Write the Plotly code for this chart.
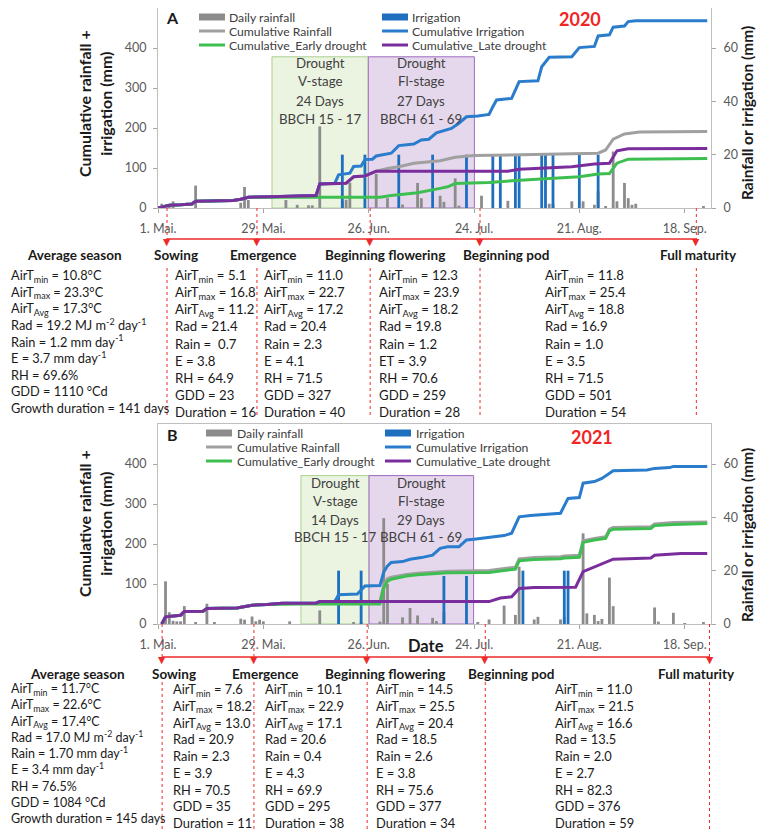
import pandas as pd
import plotly.graph_objects as go

# the page puts the figure 8 px in from the window's top-left corner; the figure is
# sized so the page does not overflow, and positions below are given in window pixels
W, H = 751, 824
OFF = 8
FONT = "Lato"
RED = "#ee2a2a"
TICK_GREY = "#595959"

C_RAIN_BAR = "#8c8c8c"
C_IRR_BAR = "#1f6fbf"
C_RAIN = "#a0a0a0"
C_IRR = "#2a7ccc"
C_EARLY = "#3cbf50"
C_LATE = "#7a2e9e"

# x axis: days after 1 May
tick_days = [0, 28, 56, 84, 112, 140]
tick_text = ["1. Mai.", "29. Mai.", "26. Jun.", "24. Jul.", "21. Aug.", "18. Sep."]

stage_names = ["Average season", "Sowing", "Emergence", "Beginning flowering", "Beginning pod", "Full maturity"]

# ---------------- 2020 (panel A) ----------------
rain_day_2020 = [1, 3, 4, 10, 22, 23, 24, 34, 37, 40, 41, 43, 49, 50, 51, 58, 61, 65, 69, 70,
                 75, 76, 79, 80, 86, 93, 104, 105, 110, 113, 116, 117, 119, 121, 122, 124, 125, 126, 127, 145]
rain_mm_2020 = [1.6, 1.2, 2.5, 8.4, 2.0, 7.9, 3.0, 3.0, 1.2, 1.0, 1.0, 30.6, 2.7, 3.1, 9.5, 12.8, 3.7, 1.3, 9.4, 3.7,
                4.6, 2.3, 11.1, 0.9, 4.6, 2.7, 1.6, 1.5, 2.5, 2.5, 1.2, 6.2, 0.6, 21.2, 2.5, 9.4, 3.7, 1.2, 1.6, 0.6]
irr_day_2020 = [49, 55, 64, 73, 82, 89, 91, 95, 96, 102, 103, 105, 112, 117]
irr_mm_2020 = [20, 20, 20, 20, 20, 20, 20, 20, 20, 20, 20, 20, 20, 20]

cum_rain_day_2020 = [0, 3, 6, 9, 10, 20, 22, 24, 30, 42, 43, 50, 52, 55, 58, 61, 64, 68, 75, 79, 84, 95,
                     117, 119, 121, 124, 128, 146]
cum_rain_2020 = [0, 7, 8, 10, 17, 19, 22, 27, 28, 31, 60, 62, 78, 80, 92, 99, 103, 112, 118, 127, 131, 133,
                 137, 145, 172, 185, 190, 191]
cum_irr_day_2020 = [0, 3, 6, 9, 10, 20, 22, 24, 30, 42, 43, 47, 48, 51, 52, 54, 55, 57, 58, 62,
                    64, 68, 70, 72, 74, 78, 80, 82, 85, 88, 89, 90, 94, 96, 101, 102, 104, 110, 112, 116,
                    117, 120, 121, 124, 125, 127, 146]
cum_irr_2020 = [0, 7, 8, 10, 17, 19, 22, 27, 28, 31, 60, 62, 83, 87, 104, 105, 121, 122, 130, 137,
                156, 160, 170, 172, 188, 199, 212, 228, 230, 234, 253, 270, 274, 316, 318, 353, 377, 378, 401, 404,
                430, 433, 452, 455, 466, 468, 468]
cum_early_day_2020 = [0, 3, 6, 9, 10, 20, 22, 24, 30, 59, 62, 69, 75, 77, 79, 88, 94, 103, 112, 117,
                      120, 122, 125, 146]
cum_early_2020 = [0, 7, 8, 10, 17, 19, 22, 27, 27, 27, 31, 38, 49, 53, 61, 64, 68, 73, 78, 85,
                  86, 112, 122, 124]
cum_late_day_2020 = [0, 3, 6, 9, 10, 20, 22, 24, 30, 42, 43, 50, 52, 55, 58, 93, 96, 105, 110, 116,
                     120, 122, 125, 146]
cum_late_2020 = [0, 7, 8, 10, 17, 19, 22, 27, 28, 31, 60, 62, 78, 80, 92, 92, 97, 100, 103, 110,
                 112, 143, 148, 149]

stage_day_2020 = [2.4, 26.3, 56.4, 85.6, 143.1]
drought_v_2020 = [30.3, 55.9]
drought_fl_2020 = [55.9, 84.1]
drought_v_text_2020 = ["Drought", "V-stage", "24 Days", "BBCH 15 - 17"]
drought_fl_text_2020 = ["Drought", "Fl-stage", "27 Days", "BBCH 61 - 69"]

tmin_2020 = ["10.8", "5.1", "11.0", "12.3", "11.8"]
tmax_2020 = ["23.3", "16.8", "22.7", "23.9", "25.4"]
tavg_2020 = ["17.3", "11.2", "17.2", "18.2", "18.8"]
rad_2020 = ["19.2", "21.4", "20.4", "19.8", "16.9"]
rain_2020 = ["1.2", " 0.7", "2.3", "1.2", "1.0"]
evap_2020 = ["3.7", "3.8", "4.1", "3.9", "3.5"]
evap_label_2020 = ["E", "E", "E", "ET", "E"]
rh_2020 = ["69.6", "64.9", "71.5", "70.6", "71.5"]
gdd_2020 = ["1110", "23", "327", "259", "501"]
duration_2020 = ["141", "16", "40", "28", "54"]

# ---------------- 2021 (panel B) ----------------
rain_day_2021 = [2, 3, 4, 5, 6, 7, 10, 13, 15, 22, 23, 25, 26, 27, 28, 35, 43, 52, 54, 59,
                 60, 61, 65, 67, 69, 73, 74, 76, 85, 88, 92, 95, 96, 100, 101, 107, 108, 113, 114, 116,
                 117, 118, 120, 121, 132, 133, 137, 140, 145]
rain_mm_2021 = [16.0, 4.4, 1.2, 1.0, 1.0, 6.7, 0.5, 7.6, 0.5, 2.0, 1.6, 2.8, 1.0, 1.6, 1.0, 1.0, 5.1, 0.4, 0.5, 0.9,
                39.7, 15.0, 2.5, 6.0, 3.2, 2.3, 1.1, 4.4, 0.5, 1.7, 6.9, 3.4, 21.5, 1.7, 2.7, 1.7, 2.5, 34.0, 4.0, 3.4,
                1.1, 1.9, 17.4, 6.7, 6.2, 0.9, 4.2, 0.3, 0.6]
irr_day_2021 = [48, 54, 76, 82, 97, 108, 109]
irr_mm_2021 = [20, 20, 18, 18, 20, 20, 20]

cum_rain_day_2021 = [1, 2, 6, 7, 12, 13, 21, 25, 29, 33, 42, 43, 59, 60, 61, 62, 66, 69, 74, 77,
                     88, 92, 95, 96, 100, 107, 108, 112, 113, 116, 119, 120, 121, 131, 132, 137, 146]
cum_rain_2021 = [0, 18, 22, 31, 32, 39, 40, 47, 49, 52, 52, 56, 57, 96, 113, 117, 124, 127, 130, 132,
                 134, 139, 142, 163, 166, 168, 170, 172, 208, 214, 218, 237, 241, 243, 250, 254, 255]
cum_irr_day_2021 = [1, 2, 6, 7, 12, 13, 21, 25, 29, 33, 42, 43, 47, 48, 53, 55, 59, 60, 61, 62,
                    65, 67, 70, 73, 75, 77, 80, 82, 84, 92, 94, 96, 99, 107, 109, 112, 113, 116, 118, 121,
                    130, 132, 136, 137, 146]
cum_irr_2021 = [0, 18, 22, 31, 32, 39, 40, 47, 49, 52, 52, 56, 56, 73, 75, 95, 96, 130, 145, 154,
                156, 162, 166, 172, 189, 193, 193, 210, 212, 221, 227, 268, 271, 277, 314, 316, 352, 356, 364, 383,
                385, 389, 391, 394, 394]
cum_early_day_2021 = [1, 2, 6, 7, 12, 13, 21, 25, 29, 38, 59, 60, 61, 62, 66, 69, 74, 77, 88, 92,
                      95, 96, 100, 107, 108, 112, 113, 116, 119, 120, 121, 131, 132, 137, 146]
cum_early_2021 = [0, 18, 22, 31, 32, 39, 40, 47, 49, 50, 50, 90, 107, 112, 120, 123, 126, 128, 129, 134,
                  137, 158, 161, 163, 165, 167, 204, 210, 214, 233, 237, 239, 246, 249, 251]
cum_late_day_2021 = [1, 2, 6, 7, 12, 13, 21, 25, 29, 33, 42, 43, 88, 91, 94, 96, 100, 111, 113, 116,
                     120, 121, 131, 132, 139, 146]
cum_late_2021 = [0, 18, 22, 31, 32, 39, 40, 47, 49, 52, 52, 56, 56, 65, 68, 89, 91, 92, 131, 143,
                 158, 162, 165, 172, 176, 176]

stage_day_2021 = [1.1, 25.5, 55.6, 87.0, 146.6]
drought_v_2021 = [38.0, 56.1]
drought_fl_2021 = [56.1, 83.9]
drought_v_text_2021 = ["Drought", "V-stage", "14 Days", "BBCH 15 - 17"]
drought_fl_text_2021 = ["Drought", "Fl-stage", "29 Days", "BBCH 61 - 69"]

tmin_2021 = ["11.7", "7.6", "10.1", "14.5", "11.0"]
tmax_2021 = ["22.6", "18.2", "22.9", "25.5", "21.5"]
tavg_2021 = ["17.4", "13.0", "17.1", "20.4", "16.6"]
rad_2021 = ["17.0", "20.9", "20.6", "18.5", "13.5"]
rain_2021 = ["1.70", "2.3", "0.4", "2.6", "2.0"]
evap_2021 = ["3.4", "3.9", "4.3", "3.8", "2.7"]
evap_label_2021 = ["E", "E", "E", "E", "E"]
rh_2021 = ["76.5", "70.5", "69.9", "75.6", "82.3"]
gdd_2021 = ["1084", "35", "295", "377", "376"]
duration_2021 = ["145", "11", "38", "34", "59"]

row_labels = ["AirT<sub>min</sub>", "AirT<sub>max</sub>", "AirT<sub>Avg</sub>", "Rad", "Rain", "E",
              "RH", "GDD", "Duration"]
season_units = ["°C", "°C", "°C", " MJ m<sup>-2</sup> day<sup>-1</sup>", " mm day<sup>-1</sup>",
                " mm day<sup>-1</sup>", "%", " °Cd", " days"]


def px(x):
    return (x - OFF) / W


def py(y):
    return 1 - (y - OFF) / H


def dates(start, days):
    return list(pd.Timestamp(start) + pd.to_timedelta(days, unit="D"))


def day_str(start, day):
    return (pd.Timestamp(start) + pd.to_timedelta(day, unit="D")).strftime("%Y-%m-%d %H:%M")


def table_column(rows, col, evap_labels):
    lines = []
    for i, vals in enumerate(rows):
        label = row_labels[i]
        if i == 5:
            label = evap_labels[col]
        if i == 8 and col == 0:
            label = "Growth duration"
        unit = season_units[i] if col == 0 else ""
        lines.append(f"{label} = {vals[col]}{unit}")
    return "<br>".join(lines)


fig = go.Figure()
shapes = []
annots = []


def add_panel(start, xa, ybar, ycum, rain_day, rain_mm, irr_day, irr_mm, cums,
              drought_v, drought_fl, v_text, fl_text, box_top, box_text_y):
    bw = 0.75 * 86400000
    fig.add_trace(go.Bar(x=dates(start, rain_day), y=rain_mm, width=bw, name="Daily rainfall",
                         marker=dict(color=C_RAIN_BAR, line_width=0), xaxis=xa, yaxis=ybar, showlegend=False))
    fig.add_trace(go.Bar(x=dates(start, irr_day), y=irr_mm, width=bw, name="Irrigation",
                         marker=dict(color=C_IRR_BAR, line_width=0), xaxis=xa, yaxis=ybar, showlegend=False))
    for name, days, vals, color in cums:
        fig.add_trace(go.Scatter(x=dates(start, days), y=vals, mode="lines", name=name,
                                 line=dict(color=color, width=3), xaxis=xa, yaxis=ycum, showlegend=False))
    for span, fill, edge, text in [(drought_v, "#ebf4e1", "#a9d18e", v_text),
                                   (drought_fl, "#e6d8ec", "#9f6cc0", fl_text)]:
        shapes.append(dict(type="rect", xref=xa, yref=ycum, x0=day_str(start, span[0]),
                           x1=day_str(start, span[1]), y0=0, y1=box_top, fillcolor=fill,
                           line=dict(color=edge, width=1), layer="below"))
        mid = day_str(start, (span[0] + span[1]) / 2)
        for t, yy in zip(text, box_text_y):
            annots.append(dict(xref=xa, yref="paper", x=mid, y=py(yy), text=t, showarrow=False,
                               xanchor="center", yanchor="middle",
                               font=dict(family=FONT, size=13.3, color="#404040")))


def add_timeline(start, xa, stage_day, axis_y, line_y, label_y, label_x, table_top, table_bot,
                 col_x, rows, evap_labels, table_size):
    for d in stage_day:
        x = day_str(start, d)
        shapes.append(dict(type="line", xref=xa, yref="paper", x0=x, x1=x, y0=py(axis_y), y1=py(line_y),
                           line=dict(color=RED, width=1, dash="dot")))
        shapes.append(dict(type="line", xref=xa, yref="paper", x0=x, x1=x, y0=py(table_top), y1=py(table_bot),
                           line=dict(color=RED, width=1, dash="dot")))
        annots.append(dict(xref=xa, yref="paper", x=x, y=py(line_y + 2.5), text="▼", showarrow=False,
                           xanchor="center", yanchor="middle",
                           font=dict(family="DejaVu Sans", size=9.5, color=RED)))
    shapes.append(dict(type="line", xref=xa, yref="paper", x0=day_str(start, stage_day[0]),
                       x1=day_str(start, stage_day[-1]), y0=py(line_y), y1=py(line_y),
                       line=dict(color=RED, width=1.5)))
    for name, cx in zip(stage_names, label_x):
        annots.append(dict(xref="paper", yref="paper", x=px(cx), y=py(label_y), text=f"<b>{name}</b>",
                           showarrow=False, xanchor="center", yanchor="middle",
                           font=dict(family=FONT, size=13.5, color="#1a1a1a")))
    for c, x0 in enumerate(col_x):
        annots.append(dict(xref="paper", yref="paper", x=px(x0), y=py(table_top - 3),
                           text=table_column(rows, c, evap_labels), showarrow=False, align="left",
                           xanchor="left", yanchor="top",
                           font=dict(family=FONT, size=table_size if c else table_size - 0.4, color="#1a1a1a")))


def add_legend(rows_y, sw_x, text_x):
    entries = [[("Daily rainfall", "bar", C_RAIN_BAR), ("Cumulative Rainfall", "line", C_RAIN),
                ("Cumulative_Early drought", "line", C_EARLY)],
               [("Irrigation", "bar", C_IRR_BAR), ("Cumulative Irrigation", "line", C_IRR),
                ("Cumulative_Late drought", "line", C_LATE)]]
    for col, items in enumerate(entries):
        for (name, kind, color), yy in zip(items, rows_y):
            x0, x1 = sw_x[col], sw_x[col] + 26
            if kind == "bar":
                shapes.append(dict(type="rect", xref="paper", yref="paper", x0=px(x0), x1=px(x1),
                                   y0=py(yy + 3.5), y1=py(yy - 3.5), fillcolor=color, line_width=0))
            else:
                shapes.append(dict(type="line", xref="paper", yref="paper", x0=px(x0), x1=px(x1),
                                   y0=py(yy), y1=py(yy), line=dict(color=color, width=3)))
            annots.append(dict(xref="paper", yref="paper", x=px(text_x[col]), y=py(yy), text=name,
                               showarrow=False, xanchor="left", yanchor="middle",
                               font=dict(family=FONT, size=12.2, color="#404040")))


rows_2020 = [tmin_2020, tmax_2020, tavg_2020, rad_2020, rain_2020, evap_2020, rh_2020, gdd_2020, duration_2020]
rows_2021 = [tmin_2021, tmax_2021, tavg_2021, rad_2021, rain_2021, evap_2021, rh_2021, gdd_2021, duration_2021]

add_panel("2020-05-01", "x", "y", "y2", rain_day_2020, rain_mm_2020, irr_day_2020, irr_mm_2020,
          [("Cumulative Rainfall", cum_rain_day_2020, cum_rain_2020, C_RAIN),
           ("Cumulative Irrigation", cum_irr_day_2020, cum_irr_2020, C_IRR),
           ("Cumulative_Early drought", cum_early_day_2020, cum_early_2020, C_EARLY),
           ("Cumulative_Late drought", cum_late_day_2020, cum_late_2020, C_LATE)],
          drought_v_2020, drought_fl_2020, drought_v_text_2020, drought_fl_text_2020, 378, [63, 81, 101, 119])
add_panel("2021-05-01", "x2", "y3", "y4", rain_day_2021, rain_mm_2021, irr_day_2021, irr_mm_2021,
          [("Cumulative Rainfall", cum_rain_day_2021, cum_rain_2021, C_RAIN),
           ("Cumulative Irrigation", cum_irr_day_2021, cum_irr_2021, C_IRR),
           ("Cumulative_Early drought", cum_early_day_2021, cum_early_2021, C_EARLY),
           ("Cumulative_Late drought", cum_late_day_2021, cum_late_2021, C_LATE)],
          drought_v_2021, drought_fl_2021, drought_v_text_2021, drought_fl_text_2021, 371, [483, 501, 520, 537])

add_timeline("2020-05-01", "x", stage_day_2020, 208, 239, 255, [74, 176, 263, 385, 506, 698], 268, 417,
             [9, 173, 262, 377, 543], rows_2020, evap_label_2020, 13.2)
add_timeline("2021-05-01", "x2", stage_day_2021, 624, 657, 673.5, [77, 174, 265, 385, 511, 696], 682, 832,
             [9, 171, 263, 374, 553], rows_2021, evap_label_2021, 12.9)

add_legend([17, 31, 45], [199, 382], [227, 410])
add_legend([433, 447, 461], [206, 385], [235, 414])

for letter, year, ly, yx, yy in [("A", "2020", 18, 580, 19), ("B", "2021", 434, 592, 437)]:
    annots.append(dict(xref="paper", yref="paper", x=px(172), y=py(ly), text=f"<b>{letter}</b>",
                       showarrow=False, xanchor="center", yanchor="middle",
                       font=dict(family=FONT, size=16, color="#1a1a1a")))
    annots.append(dict(xref="paper", yref="paper", x=px(yx), y=py(yy), text=f"<b>{year}</b>",
                       showarrow=False, xanchor="center", yanchor="middle",
                       font=dict(family=FONT, size=18, color="#f02525")))

for cy_left, cy_right in [(104, 113), (524, 535)]:
    annots.append(dict(xref="paper", yref="paper", x=px(95), y=py(cy_left),
                       text="<b>Cumulative rainfall +<br>irrigation (mm)</b>", textangle=-90, showarrow=False,
                       xanchor="center", yanchor="middle", font=dict(family=FONT, size=16, color="#1a1a1a")))
    annots.append(dict(xref="paper", yref="paper", x=px(747), y=py(cy_right),
                       text="<b>Rainfall or irrigation (mm)</b>", textangle=-90, showarrow=False,
                       xanchor="center", yanchor="middle", font=dict(family=FONT, size=15.5, color="#1a1a1a")))

annots.append(dict(xref="paper", yref="paper", x=px(426), y=py(646), text="<b>Date</b>", showarrow=False,
                   xanchor="center", yanchor="middle", font=dict(family=FONT, size=16.5, color="#1a1a1a")))

tick_font = dict(family=FONT, size=12.5, color=TICK_GREY)


def x_axis(start, anchor):
    return dict(domain=[px(158), px(711)], anchor=anchor, type="date", automargin=False,
                range=[day_str(start, 0), day_str(start, 147)],
                tickvals=dates(start, tick_days), ticktext=tick_text,
                ticks="outside", ticklen=4, tickcolor="#a6a6a6", ticklabelstandoff=5,
                showline=True, mirror=True, linecolor="#bfbfbf", linewidth=1,
                showgrid=False, zeroline=False, tickfont=tick_font)


def bar_axis(top, bottom, anchor):
    return dict(domain=[py(bottom), py(top)], anchor=anchor, side="right", range=[0, 75], automargin=False,
                tickvals=[0, 20, 40, 60], ticks="outside", ticklen=4, tickcolor="#a6a6a6",
                ticklabelstandoff=5, showline=True, mirror=True, linecolor="#bfbfbf", linewidth=1,
                showgrid=False, zeroline=False, tickfont=tick_font)


def cum_axis(overlay, anchor):
    return dict(overlaying=overlay, anchor=anchor, side="left", range=[0, 500], automargin=False,
                tickvals=[0, 100, 200, 300, 400], ticks="outside", ticklen=4, tickcolor="#a6a6a6",
                ticklabelstandoff=4, showline=False, showgrid=False, zeroline=False, tickfont=tick_font)


fig.update_layout(
    width=W, height=H, margin=dict(l=0, r=0, t=0, b=0, autoexpand=False),
    paper_bgcolor="white", plot_bgcolor="white",
    barmode="overlay", showlegend=False,
    font=dict(family=FONT, size=13, color="#1a1a1a"),
    xaxis=x_axis("2020-05-01", "y"),
    yaxis=bar_axis(8, 208, "x"),
    yaxis2=cum_axis("y", "x"),
    xaxis2=x_axis("2021-05-01", "y3"),
    yaxis3=bar_axis(424, 624, "x2"),
    yaxis4=cum_axis("y3", "x2"),
    shapes=shapes,
    annotations=annots,
)

fig.write_html("out.html")
